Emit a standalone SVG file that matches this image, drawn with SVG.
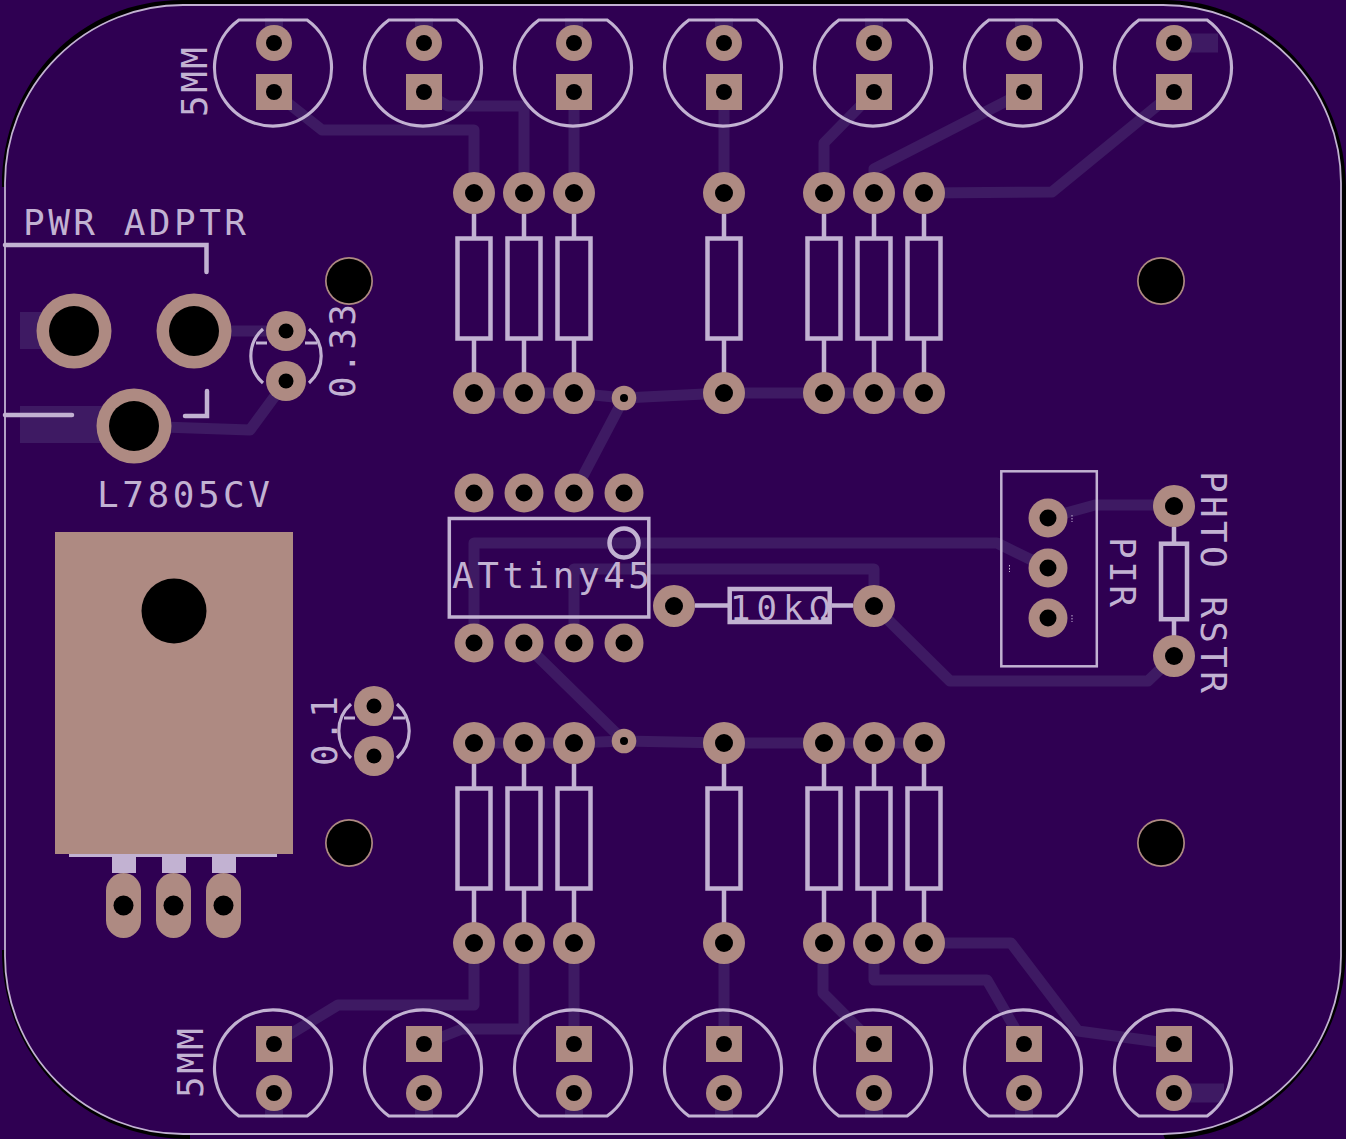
<svg xmlns="http://www.w3.org/2000/svg" width="1346" height="1139" viewBox="0 0 1346 1139">
<style>
.t{fill:none;stroke:#3e1a63;stroke-width:11;stroke-linejoin:round;stroke-linecap:round}
.tw{fill:#3e1a63;stroke:none}
.s{fill:none;stroke:#c2b2d2;stroke-width:4.500}
.c{fill:none;stroke:#c2b2d2;stroke-width:3.200}
.sf{fill:#c2b2d2;stroke:none}
.p{fill:#ae8a82}
.h{fill:#000}
.x{font-family:"DejaVu Sans Mono","Liberation Mono",monospace;font-size:36px;fill:#c2b2d2}
</style>
<defs>
<g id="capT"><path class="c" d="M-35.100,-48H33.100A58.500,58.500 0 1 1 -35.100,-48Z"/><circle class="p" cy="-25" r="18"/><rect class="p" x="-18" y="6" width="36" height="36"/><circle class="h" cy="-25" r="8"/><circle class="h" cy="24" r="8"/></g>
<g id="capB"><path class="c" d="M-35.100,48H33.100A58.500,58.500 0 1 0 -35.100,48Z"/><circle class="p" cy="25" r="18"/><rect class="p" x="-18" y="-42" width="36" height="36"/><circle class="h" cy="25" r="8"/><circle class="h" cy="-24" r="8"/></g>
<g id="res"><path class="s" d="M0,21V45M0,146V180"/><rect class="s" x="-16.500" y="45.500" width="33" height="100"/><circle class="p" r="21"/><circle class="h" r="9"/><circle class="p" cy="200" r="21"/><circle class="h" cy="200" r="9"/></g>
<g id="ip"><circle class="p" r="19.500"/><circle class="h" r="8.500"/></g>
<g id="big"><circle class="p" r="37.500"/><circle class="h" r="25"/></g>
<g id="cc"><path class="c" d="M-23,-27A36,36 0 0 0 -23,27M23,-27A36,36 0 0 1 23,27M-30,-13H-19M19,-13H31"/><circle class="p" cy="-25" r="20"/><circle class="h" cy="-25" r="7.500"/><circle class="p" cy="25" r="20"/><circle class="h" cy="25" r="7.500"/></g>
<g id="mh"><circle class="p" r="24"/><circle class="h" r="22.300"/></g>
<g id="via"><circle class="p" r="12.300"/><circle class="h" r="4"/></g>
<g id="slot"><rect class="p" x="-17.500" y="-32.500" width="35" height="65" rx="17.500"/><circle class="h" r="10"/></g>
</defs>

<g id="board">
<rect width="1346" height="1139" fill="#2f0052"/>
<path fill="#000" d="M2,187C2,80 80,0 183,0H1165C1262,0 1345,82 1346,187V950C1345,1055 1262,1139 1165,1139L1163,1134L5,187Z"/>
<rect x="1165" y="1136" width="1" height="3" fill="#000"/>
<path fill="#000" d="M2,950C2,1055 80,1139 190,1139V1125L20,950Z"/>
<path fill="#2f0052" stroke="#c2b2d2" stroke-width="1.800" d="M183,5H1163A178,178 0 0 1 1341,183V956A178,178 0 0 1 1163,1134H183A178,178 0 0 1 5,956V183A178,178 0 0 1 183,5Z"/>
</g>

<g id="connectors">
<rect class="tw" x="265" y="18" width="18" height="25"/><rect class="tw" x="415" y="18" width="18" height="25"/><rect class="tw" x="565" y="18" width="18" height="25"/><rect class="tw" x="715" y="18" width="18" height="25"/><rect class="tw" x="865" y="18" width="18" height="25"/><rect class="tw" x="1015" y="18" width="18" height="25"/>
<rect class="tw" x="1174" y="33.500" width="44" height="19"/>
<rect class="tw" x="265" y="1093" width="18" height="25"/><rect class="tw" x="415" y="1093" width="18" height="25"/><rect class="tw" x="565" y="1093" width="18" height="25"/><rect class="tw" x="715" y="1093" width="18" height="25"/><rect class="tw" x="865" y="1093" width="18" height="25"/><rect class="tw" x="1015" y="1093" width="18" height="25"/>
<rect class="tw" x="1174" y="1083.500" width="50" height="19"/>
<rect class="tw" x="20" y="312" width="54" height="37"/>
<rect class="tw" x="20" y="406" width="114" height="37"/>
<path class="t" d="M274,92L322,130H474V193"/>
<path class="t" d="M424,92L448,106H524V193"/>
<path class="t" d="M574,92V193"/>
<path class="t" d="M724,92V193"/>
<path class="t" d="M874,92L824,143V193"/>
<path class="t" d="M1024,92L874,169V193"/>
<path class="t" d="M1174,92L1052,192L924,193"/>
<path class="t" d="M194,331H286"/>
<path class="t" d="M134,426L250,430L286,381"/>
<path class="t" d="M474,393H574L624,398L724,393H924"/>
<path class="t" d="M624,398L574,493"/>
<path class="t" d="M474,743H574L624,741L724,743H924"/>
<path class="t" d="M524,643L624,741"/>
<path class="t" d="M474,643V543H997L1048,568"/>
<path class="t" d="M574,643V569H874V606"/>
<path class="t" d="M874,606L950,681H1148L1174,656"/>
<path class="t" d="M1048,518L1095,505H1174"/>
<path class="t" d="M274,1044L338,1005H474V943"/>
<path class="t" d="M424,1044L462,1029H524V943"/>
<path class="t" d="M574,1044V943"/>
<path class="t" d="M724,1044V943"/>
<path class="t" d="M874,1044L823,993V943"/>
<path class="t" d="M1024,1044L987,980H874V943"/>
<path class="t" d="M1174,1044L1078,1031L1011,943H924"/>
</g>

<g id="cap-top-1"><use href="#capT" x="274" y="68"/></g>
<g id="cap-top-2"><use href="#capT" x="424" y="68"/></g>
<g id="cap-top-3"><use href="#capT" x="574" y="68"/></g>
<g id="cap-top-4"><use href="#capT" x="724" y="68"/></g>
<g id="cap-top-5"><use href="#capT" x="874" y="68"/></g>
<g id="cap-top-6"><use href="#capT" x="1024" y="68"/></g>
<g id="cap-top-7"><use href="#capT" x="1174" y="68"/></g>
<g id="cap-bot-1"><use href="#capB" x="274" y="1068"/></g>
<g id="cap-bot-2"><use href="#capB" x="424" y="1068"/></g>
<g id="cap-bot-3"><use href="#capB" x="574" y="1068"/></g>
<g id="cap-bot-4"><use href="#capB" x="724" y="1068"/></g>
<g id="cap-bot-5"><use href="#capB" x="874" y="1068"/></g>
<g id="cap-bot-6"><use href="#capB" x="1024" y="1068"/></g>
<g id="cap-bot-7"><use href="#capB" x="1174" y="1068"/></g>
<g id="label-5mm-top"><text class="x" transform="translate(207,117) rotate(-90)" textLength="70">5MM</text></g>
<g id="label-5mm-bot"><text class="x" transform="translate(203,1098) rotate(-90)" textLength="70">5MM</text></g>

<g id="res-top-1"><use href="#res" x="474" y="193"/></g>
<g id="res-top-2"><use href="#res" x="524" y="193"/></g>
<g id="res-top-3"><use href="#res" x="574" y="193"/></g>
<g id="res-top-4"><use href="#res" x="724" y="193"/></g>
<g id="res-top-5"><use href="#res" x="824" y="193"/></g>
<g id="res-top-6"><use href="#res" x="874" y="193"/></g>
<g id="res-top-7"><use href="#res" x="924" y="193"/></g>
<g id="res-bot-1"><use href="#res" x="474" y="743"/></g>
<g id="res-bot-2"><use href="#res" x="524" y="743"/></g>
<g id="res-bot-3"><use href="#res" x="574" y="743"/></g>
<g id="res-bot-4"><use href="#res" x="724" y="743"/></g>
<g id="res-bot-5"><use href="#res" x="824" y="743"/></g>
<g id="res-bot-6"><use href="#res" x="874" y="743"/></g>
<g id="res-bot-7"><use href="#res" x="924" y="743"/></g>

<g id="via-1"><use href="#via" x="624" y="398"/></g>
<g id="via-2"><use href="#via" x="624" y="741"/></g>

<g id="power-adapter">
<path class="s" stroke-linecap="round" d="M5,245H206.500V272M5,415H72M185,416H207V391"/>
<use href="#big" x="74" y="331"/><use href="#big" x="194" y="331"/><use href="#big" x="134" y="426"/>
<text class="x" x="23" y="235" textLength="223">PWR ADPTR</text>
</g>

<g id="cap-033"><use href="#cc" x="286" y="356"/><text class="x" transform="translate(355,398) rotate(-90)" textLength="94">0.33</text></g>
<g id="cap-01"><use href="#cc" x="374" y="731"/><text class="x" transform="translate(337,766) rotate(-90)" textLength="70">0.1</text></g>

<g id="mount-1"><use href="#mh" x="349" y="281"/></g>
<g id="mount-2"><use href="#mh" x="349" y="843"/></g>
<g id="mount-3"><use href="#mh" x="1161" y="281"/></g>
<g id="mount-4"><use href="#mh" x="1161" y="843"/></g>

<g id="regulator">
<text class="x" x="97" y="507" textLength="173">L7805CV</text>
<rect class="p" x="55" y="532" width="238" height="322"/>
<circle class="h" cx="174" cy="611" r="32.500"/>
<rect class="sf" x="69" y="854" width="208" height="3"/>
<rect class="sf" x="112" y="857" width="24" height="16"/><rect class="sf" x="162" y="857" width="24" height="16"/><rect class="sf" x="212" y="857" width="24" height="16"/>
<use href="#slot" x="123.500" y="905.500"/><use href="#slot" x="173.500" y="905.500"/><use href="#slot" x="223.500" y="905.500"/>
</g>

<g id="attiny45">
<rect class="s" style="stroke-width:3.500" x="449.300" y="518.500" width="199.500" height="98.500"/>
<circle class="s" cx="624" cy="543" r="14.500"/>
<text class="x" x="452" y="588" textLength="198">ATtiny45</text>
<use href="#ip" x="474" y="493"/><use href="#ip" x="524" y="493"/><use href="#ip" x="574" y="493"/><use href="#ip" x="624" y="493"/>
<use href="#ip" x="474" y="643"/><use href="#ip" x="524" y="643"/><use href="#ip" x="574" y="643"/><use href="#ip" x="624" y="643"/>
</g>

<g id="res-10k">
<path class="s" d="M695,605.500H728M832,605.500H853"/>
<rect class="s" x="729.700" y="589" width="100" height="33"/>
<text class="x" x="730" y="620" style="font-size:34px" textLength="100">10kΩ</text>
<circle class="p" cx="674" cy="606" r="21"/><circle class="h" cx="674" cy="606" r="9"/>
<circle class="p" cx="874" cy="606" r="21"/><circle class="h" cx="874" cy="606" r="9"/>
</g>

<g id="pir">
<rect class="s" style="stroke-width:2.500" x="1001.300" y="471.300" width="95.500" height="195"/>
<use href="#ip" x="1048" y="518"/><use href="#ip" x="1048" y="568"/><use href="#ip" x="1048" y="618"/>
<path class="s" style="stroke-width:1;stroke-dasharray:1.500 1.500" d="M1072,515V522M1072,615V622M1009.500,565V572"/>
<text class="x" transform="translate(1110,537) rotate(90)" textLength="70">PIR</text>
</g>

<g id="phto-rstr">
<path class="s" d="M1174,527V543M1174,620V636"/>
<rect class="s" x="1161" y="543.700" width="26" height="75.500"/>
<circle class="p" cx="1174" cy="506" r="21"/><circle class="h" cx="1174" cy="506" r="9"/>
<circle class="p" cx="1174" cy="656" r="21"/><circle class="h" cx="1174" cy="656" r="9"/>
<text class="x" transform="translate(1201,471) rotate(90)" textLength="222">PHTO RSTR</text>
</g>
</svg>
